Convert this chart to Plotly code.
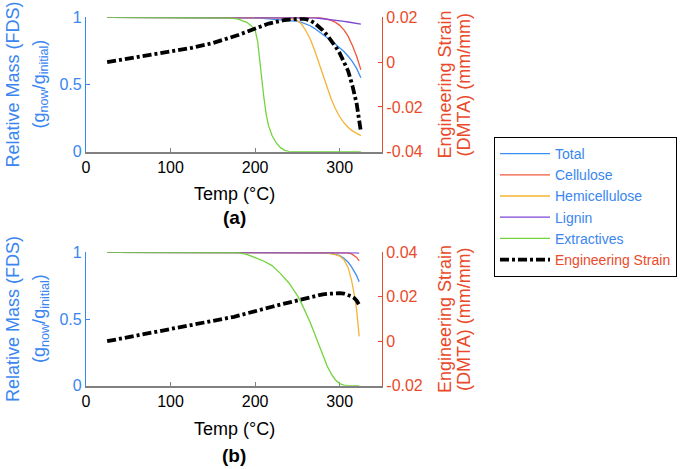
import plotly.graph_objects as go

# ---------------- data: panel (a) ----------------
temp_a = [25, 50, 75, 100, 125, 150, 160, 170, 180, 190, 195, 200, 203, 206, 210, 213, 216,
          220, 225, 230, 235, 240, 245, 250, 255, 260, 265, 270, 275, 280, 285, 290, 295,
          300, 305, 310, 315, 320, 325]
total_a = [1, 1, 1, 1, 1, 1, 1, 1, 1, 1, 1, 0.998, 0.996, 0.994, 0.992, 0.991, 0.99,
           0.989, 0.987, 0.985, 0.982, 0.978, 0.975, 0.97, 0.962, 0.952, 0.937, 0.918, 0.896,
           0.873, 0.849, 0.825, 0.8, 0.775, 0.745, 0.71, 0.67, 0.62, 0.55]
cellulose_a = [1] * 28 + [0.998, 0.994, 0.987, 0.977, 0.962, 0.94, 0.907, 0.858, 0.79, 0.71, 0.61]
hemi_a = [1] * 18 + [0.999, 0.998, 0.996, 0.993, 0.987, 0.975, 0.948, 0.9, 0.84, 0.76, 0.67,
                     0.575, 0.48, 0.39, 0.32, 0.26, 0.215, 0.18, 0.155, 0.135, 0.12]
lignin_a = [1] * 24 + [0.999, 0.998, 0.997, 0.995, 0.993, 0.99, 0.987, 0.983, 0.979, 0.975,
                       0.97, 0.965, 0.96, 0.955, 0.95]
extract_a = [1, 1, 1, 1, 1, 1, 1, 0.996, 0.987, 0.963, 0.94, 0.905, 0.82, 0.64, 0.42, 0.28,
             0.19, 0.12, 0.065, 0.03, 0.01, 0.002] + [0] * 17
strain_a = [0.0, 0.0015, 0.003, 0.0046, 0.0064, 0.0085, 0.0096, 0.0108, 0.0121, 0.0135, 0.0143,
            0.0151, 0.0155, 0.0159, 0.0164, 0.0168, 0.0172, 0.0176, 0.0181, 0.0185, 0.0188,
            0.019, 0.0192, 0.0193, 0.0194, 0.0192, 0.0186, 0.0175, 0.016, 0.0142, 0.0121,
            0.0097, 0.007, 0.004, 0.0004, -0.004, -0.0105, -0.0185, -0.031]

# ---------------- data: panel (b) ----------------
temp_b = [25, 50, 75, 100, 125, 150, 175, 180, 190, 200, 210, 220, 230, 240, 250, 255, 260,
          265, 270, 275, 280, 285, 290, 295, 300, 305, 310, 314, 317, 320, 323]
total_b = [1] * 20 + [0.998, 0.996, 0.993, 0.986, 0.975, 0.955, 0.925, 0.89, 0.86, 0.825, 0.78]
cellulose_b = [1] * 25 + [0.998, 0.995, 0.988, 0.978, 0.962, 0.935]
hemi_b = [1] * 19 + [0.999, 0.997, 0.994, 0.99, 0.983, 0.972, 0.945, 0.885, 0.79, 0.69, 0.57, 0.37]
lignin_b = [1] * 25 + [0.999, 0.998, 0.997, 0.996, 0.995, 0.994]
extract_b = [1, 1, 1, 1, 1, 1, 0.999, 0.997, 0.985, 0.96, 0.935, 0.9, 0.84, 0.77, 0.675, 0.615,
             0.55, 0.475, 0.395, 0.31, 0.225, 0.15, 0.088, 0.043, 0.016, 0.004, 0, 0, 0, 0, 0]
strain_b = [0.0, 0.0018, 0.0036, 0.0054, 0.0071, 0.0088, 0.011, 0.0115, 0.0124, 0.0133, 0.0144,
            0.0155, 0.0165, 0.0175, 0.0185, 0.019, 0.0195, 0.02, 0.0204, 0.0208, 0.0211, 0.0213,
            0.0215, 0.0216, 0.0216, 0.0214, 0.0209, 0.0202, 0.0195, 0.0183, 0.0163]

x_ticks = [0, 100, 200, 300]
mass_ticks = [0, 0.5, 1]
mass_ticktext = ["0", "0.5", "1"]
strain_ticks_a = [-0.04, -0.02, 0, 0.02]
strain_ticktext_a = ["-0.04", "-0.02", "0", "0.02"]
strain_ticks_b = [-0.02, 0, 0.02, 0.04]
strain_ticktext_b = ["-0.02", "0", "0.02", "0.04"]

names = ["Total", "Cellulose", "Hemicellulose", "Lignin", "Extractives"]
colors = ["#3d8ef2", "#f0583c", "#f5b335", "#7d45d4", "#72d43c"]
BLUE = "#3a86f0"
RED = "#ea4a2a"
GRAY = "#808080"
FONT = "Liberation Sans, Arial, sans-serif"

W, H = 685, 469

fig = go.Figure()

panels = [
    (temp_a, [total_a, cellulose_a, hemi_a, lignin_a, extract_a], strain_a, "x", "y", "y2", True),
    (temp_b, [total_b, cellulose_b, hemi_b, lignin_b, extract_b], strain_b, "x2", "y3", "y4", False),
]
for t, series, strain, xa, ya, ya2, show in panels:
    for nm, col, vals in zip(names, colors, series):
        fig.add_trace(go.Scatter(x=t, y=vals, mode="lines", name=nm,
                                 line=dict(color=col, width=1.3),
                                 xaxis=xa, yaxis=ya, showlegend=show))
    fig.add_trace(go.Scatter(x=t, y=strain, mode="lines",
                             name='<span style="color:%s">Engineering Strain</span>' % RED,
                             line=dict(color="black", width=3.8, dash="9px,3px,3px,3px"),
                             xaxis=xa, yaxis=ya2, showlegend=show))

def px_x(p):
    return p / W

def px_y(p):
    return 1 - p / H

xdom = [px_x(86), px_x(382)]
top_dom = [px_y(151.7), px_y(17.3)]
bot_dom = [px_y(385.7), px_y(252.3)]

xcommon = dict(range=[0, 350], tickvals=x_ticks, showline=True, linecolor=GRAY, linewidth=1.5,
               ticks="inside", ticklen=4, tickcolor=GRAY, showgrid=False, zeroline=False,
               automargin=False, layer="below traces",
               tickfont=dict(size=16, color="black", family=FONT), domain=xdom)
ymass = dict(range=[0, 1], tickvals=mass_ticks, ticktext=mass_ticktext, showline=True,
             linecolor=BLUE, linewidth=1.2, ticks="inside", ticklen=4, tickcolor=BLUE,
             showgrid=False, zeroline=False, automargin=False,
             tickfont=dict(size=16, color=BLUE, family=FONT))
ystrain = dict(showline=True, linecolor=RED, linewidth=1.2, ticks="inside", ticklen=4,
               tickcolor=RED, showgrid=False, zeroline=False, side="right", automargin=False,
               tickfont=dict(size=16, color=RED, family=FONT))

fig.update_layout(
    width=W, height=H,
    margin=dict(l=0, r=0, t=0, b=0, autoexpand=False),
    paper_bgcolor="white", plot_bgcolor="white",
    font=dict(family=FONT, size=16, color="black"),
    xaxis=dict(**xcommon, anchor="y"),
    xaxis2=dict(**xcommon, anchor="y3"),
    yaxis=dict(**ymass, domain=top_dom, anchor="x"),
    yaxis2=dict(**ystrain, range=[-0.04, 0.02], tickvals=strain_ticks_a,
                ticktext=strain_ticktext_a, overlaying="y", anchor="x"),
    yaxis3=dict(**ymass, domain=bot_dom, anchor="x2"),
    yaxis4=dict(**ystrain, range=[-0.02, 0.04], tickvals=strain_ticks_b,
                ticktext=strain_ticktext_b, overlaying="y3", anchor="x2"),
    legend=dict(x=px_x(494), y=px_y(137), xanchor="left", yanchor="top",
                bordercolor="black", borderwidth=1, bgcolor="white",
                itemwidth=50, entrywidth=130,
                font=dict(size=14, color=BLUE, family=FONT), tracegroupgap=0),
    showlegend=True,
)

ann = []
xc = px_x(234)
for ycen, ytemp, ylab, lab in [(84.5, 194, 217, "(a)"), (319, 429, 455, "(b)")]:
    ann.append(dict(x=xc, y=px_y(ytemp), text="Temp (°C)", showarrow=False,
                    xref="paper", yref="paper", xanchor="center", yanchor="middle",
                    font=dict(size=18, color="black", family=FONT)))
    ann.append(dict(x=xc, y=px_y(ylab), text="<b>%s</b>" % lab, showarrow=False,
                    xref="paper", yref="paper", xanchor="center", yanchor="middle",
                    font=dict(size=19, color="black", family=FONT)))
    ann.append(dict(x=px_x(13), y=px_y(ycen), text="Relative Mass (FDS)", textangle=-90,
                    showarrow=False, xref="paper", yref="paper", xanchor="center",
                    yanchor="middle", font=dict(size=18, color=BLUE, family=FONT)))
    ann.append(dict(x=px_x(40), y=px_y(ycen), text="(g<sub>now</sub>/g<sub>initial</sub>)",
                    textangle=-90, showarrow=False, xref="paper", yref="paper",
                    xanchor="center", yanchor="middle",
                    font=dict(size=18, color=BLUE, family=FONT)))
    ann.append(dict(x=px_x(445), y=px_y(ycen), text="Engineering Strain", textangle=-90,
                    showarrow=False, xref="paper", yref="paper", xanchor="center",
                    yanchor="middle", font=dict(size=18, color=RED, family=FONT)))
    ann.append(dict(x=px_x(464), y=px_y(ycen), text="(DMTA) (mm/mm)", textangle=-90,
                    showarrow=False, xref="paper", yref="paper", xanchor="center",
                    yanchor="middle", font=dict(size=18, color=RED, family=FONT)))
fig.update_layout(annotations=ann)

# remove the default 8px page margin so the figure sits at the window's top-left corner
fig.write_html("out.html", config={"displayModeBar": False},
               post_script="document.body.style.margin='0px';document.body.style.overflow='hidden';")
